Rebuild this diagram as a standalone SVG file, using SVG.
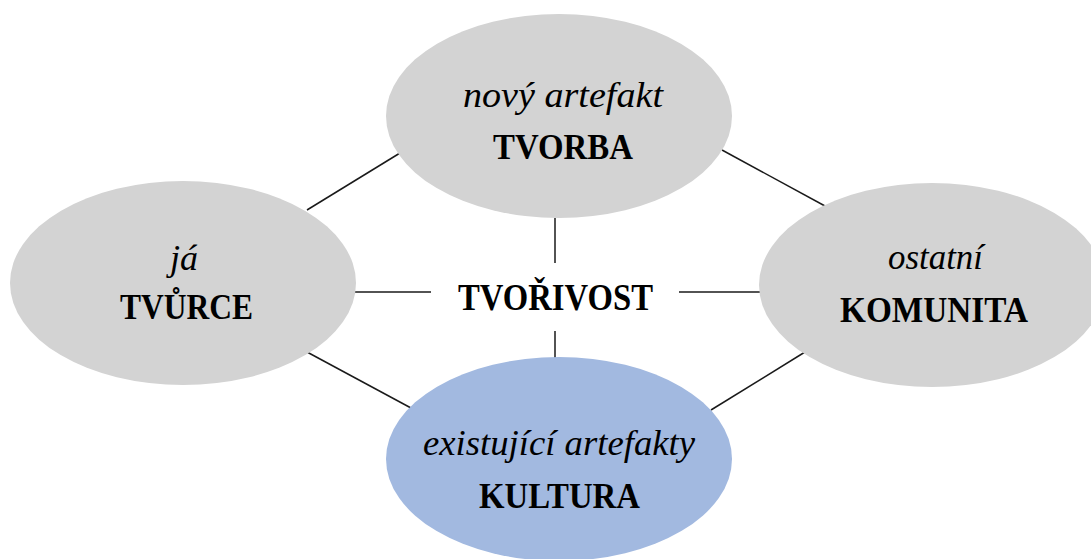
<svg xmlns="http://www.w3.org/2000/svg" width="1091" height="559" viewBox="0 0 1091 559">
<style>
.grey{fill:#d3d3d3}
.blue{fill:#a2b9e0}
.it{font-family:"Liberation Serif","Times New Roman",serif;font-style:italic;font-size:36px;fill:#000;text-anchor:middle}
.bd{font-family:"Liberation Serif","Times New Roman",serif;font-weight:bold;font-size:36px;fill:#000;text-anchor:middle}
.conn line{stroke:#1a1a1a;stroke-width:1.5}
</style>
<rect width="1091" height="559" fill="#fff"/>
<g id="connectors" class="conn">
<line x1="307" y1="210" x2="400" y2="153"/>
<line x1="722" y1="150" x2="825" y2="206"/>
<line x1="307" y1="352" x2="411" y2="408"/>
<line x1="711" y1="410" x2="805" y2="352"/>
<line x1="555" y1="218" x2="555" y2="263"/>
<line x1="555" y1="331" x2="555" y2="358"/>
<line x1="354" y1="292" x2="431" y2="292"/>
<line x1="679" y1="292" x2="760" y2="292"/>
</g>
<g id="tvorba">
<ellipse class="grey" cx="559" cy="116" rx="173" ry="102"/>
<text class="it" x="563" y="107" textLength="200" lengthAdjust="spacingAndGlyphs">nový artefakt</text>
<text class="bd" x="563" y="159" textLength="140" lengthAdjust="spacingAndGlyphs">TVORBA</text>
</g>
<g id="tvurce">
<ellipse class="grey" cx="183" cy="283" rx="173" ry="102"/>
<text class="it" x="184" y="270">já</text>
<text class="bd" x="186.5" y="319" textLength="133" lengthAdjust="spacingAndGlyphs">TVŮRCE</text>
</g>
<g id="komunita">
<ellipse class="grey" cx="932" cy="285" rx="173" ry="102"/>
<text class="it" x="935.5" y="269" textLength="95" lengthAdjust="spacingAndGlyphs">ostatní</text>
<text class="bd" x="934" y="322" textLength="188" lengthAdjust="spacingAndGlyphs">KOMUNITA</text>
</g>
<g id="kultura">
<ellipse class="blue" cx="559" cy="459" rx="173" ry="102"/>
<text class="it" x="559" y="455" textLength="272" lengthAdjust="spacingAndGlyphs">existující artefakty</text>
<text class="bd" x="559.5" y="508" textLength="161" lengthAdjust="spacingAndGlyphs">KULTURA</text>
</g>
<g id="tvorivost">
<text class="bd" x="555.5" y="310" style="font-size:37px" textLength="195" lengthAdjust="spacingAndGlyphs">TVOŘIVOST</text>
</g>
</svg>
